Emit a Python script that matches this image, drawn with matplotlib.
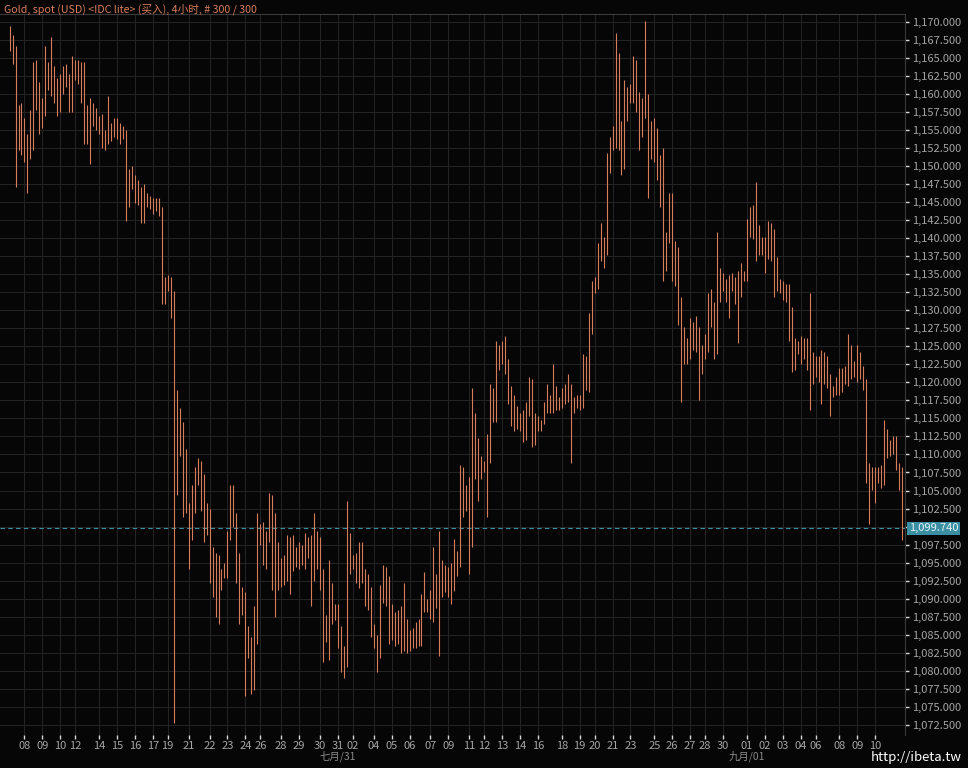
import numpy as np
import matplotlib.pyplot as plt
from matplotlib.transforms import blended_transform_factory
from matplotlib.ticker import FuncFormatter

plt.rcParams['font.family'] = ['Noto Sans CJK SC', 'DejaVu Sans']

# 4-hour bars, gold spot (USD), high / low of each bar
highs = [
    1169.4, 1168.2, 1166.6, 1158.4, 1158.8, 1156.6, 1154.4, 1157.8, 1164.4, 1164.7,
    1161.6, 1159.4, 1166.6, 1164.4, 1167.9, 1163.8, 1162.2, 1162.8, 1163.8, 1164.1,
    1162.8, 1165.3, 1164.7, 1164.7, 1164.4, 1164.4, 1158.4, 1159.4, 1158.8, 1158.1,
    1156.9, 1157.2, 1155.0, 1159.7, 1155.9, 1156.6, 1156.6, 1155.9, 1155.6, 1155.0,
    1149.6, 1150.0, 1148.7, 1148.1, 1147.1, 1147.5, 1146.2, 1145.9, 1145.6, 1145.6,
    1145.6, 1144.3, 1134.6, 1134.9, 1134.6, 1132.7, 1118.9, 1116.4, 1114.5, 1110.7,
    1103.2, 1105.7, 1108.2, 1109.5, 1109.1, 1107.3, 1103.2, 1102.5, 1097.2, 1096.3,
    1096.0, 1094.1, 1095.0, 1099.4, 1105.7, 1105.7, 1101.9, 1096.3, 1091.6, 1090.9,
    1086.2, 1084.7, 1089.0, 1101.9, 1100.3, 1100.7, 1099.4, 1104.7, 1104.4, 1101.9,
    1097.8, 1095.6, 1096.0, 1098.8, 1098.5, 1098.8, 1097.2, 1097.8, 1097.5, 1099.1,
    1098.5, 1098.8, 1101.9, 1099.4, 1098.5, 1094.1, 1087.8, 1095.3, 1092.2, 1089.3,
    1089.3, 1086.2, 1083.4, 1103.5, 1099.1, 1096.0, 1096.3, 1097.8, 1097.8, 1094.1,
    1093.4, 1091.6, 1086.5, 1085.0, 1091.9, 1094.7, 1094.4, 1093.1, 1089.3, 1088.1,
    1088.4, 1089.0, 1092.2, 1087.2, 1085.6, 1085.9, 1086.8, 1087.2, 1090.6, 1093.7,
    1090.0, 1091.2, 1097.2, 1093.4, 1099.4, 1095.3, 1094.7, 1094.4, 1095.0, 1098.3,
    1096.6, 1108.5, 1108.2, 1105.7, 1106.9, 1119.2, 1115.7, 1112.3, 1109.8, 1109.1,
    1112.9, 1119.8, 1119.2, 1125.8, 1125.2, 1125.8, 1126.4, 1123.3, 1119.5, 1118.3,
    1116.7, 1115.7, 1116.1, 1117.3, 1120.8, 1120.4, 1115.7, 1115.4, 1114.8, 1117.3,
    1119.8, 1118.3, 1122.6, 1119.5, 1117.9, 1119.2, 1119.8, 1121.1, 1119.8, 1117.9,
    1118.3, 1118.3, 1123.9, 1123.6, 1129.6, 1134.0, 1134.6, 1139.3, 1142.1, 1140.2,
    1151.8, 1154.0, 1155.6, 1168.5, 1165.7, 1156.2, 1161.9, 1161.0, 1161.3, 1165.3,
    1164.7, 1160.3, 1159.4, 1170.1, 1160.0, 1156.2, 1156.6, 1155.3, 1151.5, 1152.5,
    1140.9, 1146.2, 1146.2, 1139.6, 1138.7, 1131.8, 1127.7, 1126.1, 1128.9, 1128.3,
    1129.2, 1127.7, 1125.2, 1126.7, 1132.4, 1133.0, 1131.1, 1140.9, 1135.8, 1135.2,
    1134.3, 1134.9, 1135.2, 1134.6, 1135.5, 1136.5, 1135.5, 1142.7, 1144.3, 1144.6,
    1147.8, 1141.8, 1140.2, 1140.2, 1142.4, 1142.1, 1141.2, 1137.4, 1134.3, 1134.0,
    1133.6, 1133.6, 1130.5, 1126.1, 1125.8, 1126.4, 1126.1, 1126.1, 1132.4, 1124.2,
    1123.6, 1123.6, 1124.5, 1124.2, 1123.6, 1121.1, 1119.5, 1120.8, 1122.0, 1122.0,
    1122.3, 1126.7, 1125.2, 1123.0, 1125.2, 1124.2, 1122.3, 1120.4, 1108.8, 1108.2,
    1108.2, 1108.2, 1108.5, 1114.8, 1113.5, 1112.0, 1112.6, 1112.6, 1108.8, 1108.2,
]
lows = [
    1166.0, 1164.1, 1147.1, 1152.2, 1151.5, 1150.6, 1146.2, 1150.9, 1152.2, 1157.8,
    1154.4, 1155.3, 1156.9, 1160.6, 1159.7, 1158.8, 1156.9, 1157.5, 1160.0, 1161.0,
    1157.5, 1157.5, 1161.9, 1161.3, 1158.8, 1153.1, 1153.1, 1150.3, 1155.6, 1155.0,
    1154.4, 1152.5, 1152.2, 1153.1, 1153.4, 1154.0, 1153.7, 1153.1, 1153.7, 1142.4,
    1144.3, 1146.8, 1144.9, 1144.6, 1142.1, 1142.1, 1144.3, 1144.0, 1143.4, 1143.7,
    1143.1, 1130.8, 1130.8, 1132.7, 1128.9, 1072.7, 1104.4, 1109.8, 1101.3, 1101.9,
    1094.1, 1098.2, 1101.9, 1105.7, 1102.2, 1097.9, 1098.8, 1092.2, 1090.3, 1087.5,
    1086.5, 1091.2, 1092.8, 1092.8, 1098.2, 1100.0, 1092.2, 1086.5, 1087.8, 1076.5,
    1081.8, 1076.8, 1077.4, 1083.7, 1097.5, 1094.7, 1094.1, 1097.8, 1091.2, 1087.5,
    1091.2, 1091.6, 1091.9, 1092.5, 1090.6, 1093.8, 1094.4, 1094.1, 1094.7, 1094.1,
    1095.6, 1089.0, 1092.5, 1094.1, 1091.2, 1081.2, 1084.0, 1081.5, 1086.5, 1087.1,
    1083.1, 1079.9, 1079.0, 1080.5, 1093.4, 1094.1, 1092.2, 1091.5, 1092.2, 1089.0,
    1088.4, 1084.7, 1083.1, 1079.9, 1081.8, 1089.4, 1089.0, 1083.7, 1084.3, 1083.4,
    1083.7, 1082.5, 1082.8, 1082.5, 1082.8, 1083.1, 1083.1, 1083.4, 1083.4, 1088.1,
    1088.1, 1087.2, 1086.8, 1088.7, 1082.1, 1090.3, 1090.9, 1090.3, 1089.3, 1091.0,
    1093.1, 1094.4, 1101.3, 1102.2, 1093.4, 1097.2, 1106.6, 1103.5, 1106.6, 1107.6,
    1101.3, 1108.8, 1114.5, 1114.5, 1121.7, 1122.6, 1121.1, 1117.0, 1113.9, 1113.2,
    1113.5, 1113.2, 1111.7, 1112.0, 1115.4, 1111.0, 1111.3, 1113.2, 1113.2, 1114.2,
    1115.7, 1115.7, 1115.7, 1116.1, 1116.1, 1116.4, 1117.0, 1117.3, 1108.8, 1115.7,
    1116.4, 1116.1, 1116.4, 1118.9, 1118.6, 1126.7, 1132.4, 1133.0, 1136.8, 1135.8,
    1137.7, 1149.0, 1152.2, 1152.5, 1152.2, 1148.7, 1149.6, 1156.2, 1158.8, 1158.8,
    1157.5, 1152.2, 1154.0, 1156.6, 1145.6, 1150.9, 1150.6, 1148.1, 1144.3, 1134.0,
    1135.5, 1139.3, 1134.0, 1133.3, 1128.0, 1117.3, 1122.6, 1122.6, 1123.3, 1124.5,
    1124.2, 1117.6, 1121.1, 1123.3, 1124.2, 1127.7, 1123.3, 1123.9, 1131.1, 1132.7,
    1131.1, 1128.9, 1132.7, 1130.8, 1125.5, 1131.8, 1134.0, 1134.0, 1140.2, 1139.9,
    1136.8, 1137.7, 1137.7, 1135.2, 1137.1, 1136.8, 1131.8, 1132.7, 1132.4, 1131.4,
    1131.1, 1125.8, 1121.4, 1121.7, 1123.9, 1122.6, 1123.3, 1121.7, 1116.1, 1119.8,
    1120.8, 1120.1, 1117.0, 1119.8, 1119.2, 1115.4, 1117.9, 1118.3, 1118.3, 1118.6,
    1119.8, 1119.5, 1120.4, 1120.8, 1120.1, 1120.4, 1118.9, 1106.0, 1100.3, 1105.1,
    1103.2, 1106.0, 1105.4, 1105.7, 1109.5, 1109.8, 1110.1, 1107.9, 1105.1, 1098.2,
]
last_price = 1099.74

day_labels = ['08', '09', '10', '12', '14', '15', '16', '17', '19', '21', '22', '23',
              '24', '26', '28', '29', '30', '31', '02', '04', '05', '06', '07', '09',
              '11', '12', '13', '14', '16', '18', '19', '20', '21', '23', '25', '26',
              '27', '28', '30', '01', '02', '03', '04', '06', '08', '09', '10']
day_bar = [5, 11, 17, 22, 30, 36, 42, 48, 53, 60, 67, 73,
           79, 84, 91, 97, 104, 110, 115, 122, 128, 134, 141, 147,
           154, 159, 165, 171, 177, 185, 191, 196, 202, 208, 216, 222,
           228, 233, 239, 247, 253, 259, 265, 270, 278, 284, 290]
month_labels = ['七月/31', '九月/01']
month_bar = [110, 247]

bg = '#060606'
orange = '#d67d5b'
teal = '#3a8fa2'
grey = '#a4a4a4'

fig = plt.figure(figsize=(9.68, 7.68), dpi=100, facecolor=bg)
ax = fig.add_axes([0.0, 0.043, 0.935, 0.939])
ax.set_facecolor(bg)

x = np.arange(len(highs))
ax.vlines(x, lows, highs, color=orange, lw=0.8, zorder=3)
ax.axhline(last_price, color=teal, lw=0.8, ls=(0, (4, 3)), zorder=2)

ax.set_xlim(-3.2, 300)
ax.set_ylim(1071.1, 1171.1)


def price_fmt(v, p):
    # the last-price box hides the 1,100 label
    if abs(v - 1100.0) < 0.01:
        return ''
    return f'{v:,.3f}'


ax.yaxis.tick_right()
ax.set_yticks(np.arange(1072.5, 1170.01, 2.5))
ax.yaxis.set_major_formatter(FuncFormatter(price_fmt))
ax.tick_params(axis='y', colors='#d8d8d8', labelcolor=grey, labelsize=8,
               length=3, width=1, pad=2)

ax.set_xticks(day_bar)
ax.set_xticklabels(day_labels)
ax.tick_params(axis='x', colors='#d8d8d8', labelcolor=grey, labelsize=8,
               length=3, width=1, pad=1)

ax.grid(True, color='#242424', lw=0.7)
ax.set_axisbelow(True)

for s in ['left', 'bottom']:
    ax.spines[s].set_visible(False)
for s in ['right', 'top']:
    ax.spines[s].set_color('#3a3a3a')
    ax.spines[s].set_linewidth(0.8)

tr = blended_transform_factory(ax.transData, ax.transAxes)
for lab, b in zip(month_labels, month_bar):
    ax.text(b, -0.029, lab, transform=tr, ha='center', va='center',
            color='#8a8a8a', fontsize=7.5)

tr2 = blended_transform_factory(ax.transAxes, ax.transData)
ax.text(1.004, last_price, f'{last_price:,.3f}', transform=tr2, ha='left',
        va='center', color='#e6f4f6', fontsize=8,
        bbox=dict(boxstyle='square,pad=0.15', fc=teal, ec='none'))

fig.text(0.004, 0.996, 'Gold, spot (USD) <IDC lite> (买入), 4小时, # 300 / 300',
         color=orange, fontsize=7.7, ha='left', va='top')
fig.text(0.994, 0.014, 'http://ibeta.tw', color='white', fontsize=9.5,
         ha='right', va='center')

fig.savefig('out.png', dpi=100, facecolor=bg)
